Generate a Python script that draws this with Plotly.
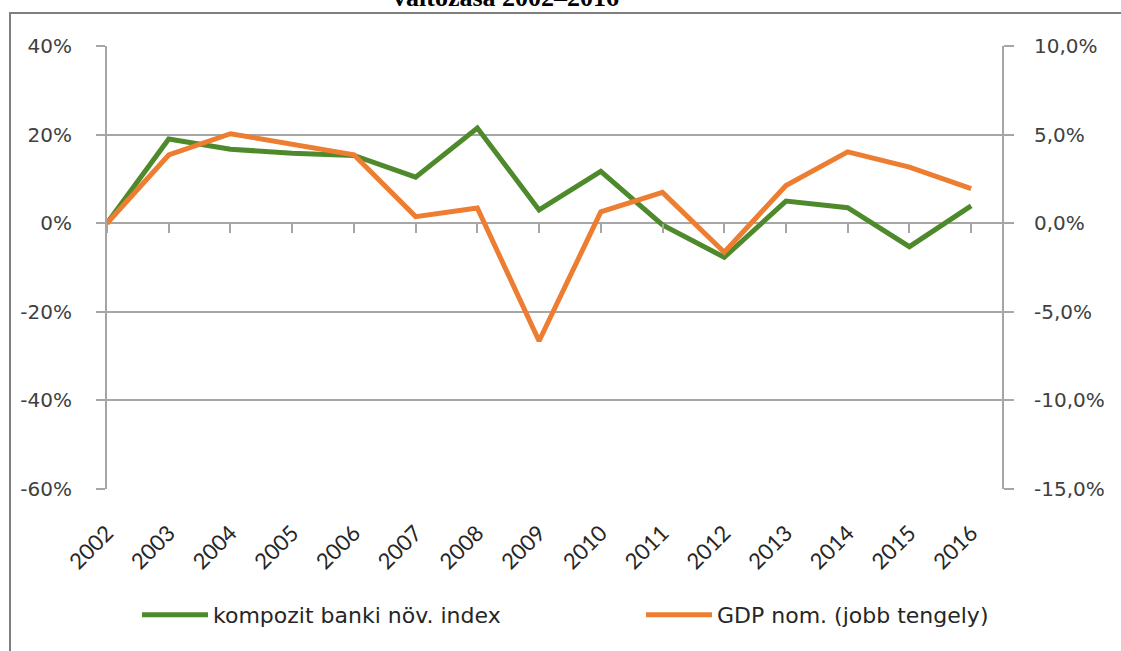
import plotly.graph_objects as go

years = ["2002", "2003", "2004", "2005", "2006", "2007", "2008", "2009",
         "2010", "2011", "2012", "2013", "2014", "2015", "2016"]
bank_index = [0.0, 19.0, 16.7, 15.8, 15.3, 10.4, 21.5, 3.0, 11.7, -0.4,
              -7.7, 5.0, 3.5, -5.3, 3.9]
gdp_nom = [0.0, 3.85, 5.05, 4.45, 3.86, 0.37, 0.86, -6.65, 0.64, 1.74,
           -1.64, 2.13, 4.03, 3.17, 1.95]
left_ticks = [-60, -40, -20, 0, 20, 40]
left_labels = ["-60%", "-40%", "-20%", "0%", "20%", "40%"]
right_ticks = [-15, -10, -5, 0, 5, 10]
right_labels = ["-15,0%", "-10,0%", "-5,0%", "0,0%", "5,0%", "10,0%"]
title_text = "változása 2002–2016"
name_bank = "kompozit banki növ. index"
name_gdp = "GDP nom. (jobb tengely)"

GREEN = "#4E8A2C"
ORANGE = "#ED7D31"
GRID = "#A6A6A6"
TXT = "#404040"

idx = list(range(len(years)))

fig = go.Figure()
fig.add_trace(go.Scatter(x=idx, y=bank_index, name=name_bank, mode="lines",
                         line=dict(color=GREEN, width=5), yaxis="y",
                         legend="legend"))
fig.add_trace(go.Scatter(x=idx, y=gdp_nom, name=name_gdp, mode="lines",
                         line=dict(color=ORANGE, width=5), yaxis="y2",
                         legend="legend2"))
# carrier for the tick marks along the zero line
fig.add_trace(go.Scatter(x=[0], y=[None], xaxis="x2", yaxis="y", mode="lines",
                         showlegend=False, hoverinfo="skip"))

W, H = 1121, 651
L, R, T, B = 107, 1002, 46, 489
pw, ph = R - L, B - T

def px_x(p):
    return (p - L) / pw

def px_y(p):
    return (B - p) / ph

leg_font = dict(family="DejaVu Sans", size=22, color="#262626")
fig.update_layout(
    width=W, height=H,
    margin=dict(l=L, r=W - R, t=T, b=H - B, pad=0, autoexpand=False),
    paper_bgcolor="white", plot_bgcolor="white",
    font=dict(family="DejaVu Sans", color=TXT, size=20),
    showlegend=True,
    legend=dict(orientation="h", x=px_x(137), y=px_y(615), xanchor="left",
                yanchor="middle", font=leg_font, itemwidth=66,
                bgcolor="rgba(0,0,0,0)"),
    legend2=dict(orientation="h", x=px_x(641), y=px_y(615), xanchor="left",
                 yanchor="middle", font=leg_font, itemwidth=66,
                 bgcolor="rgba(0,0,0,0)"),
    xaxis=dict(range=[0, 14.5], tickvals=idx, ticktext=years, tickangle=-45,
               showgrid=False, zeroline=False, showline=False, ticks="",
               ticklabelstandoff=26, automargin=False,
               tickfont=dict(family="Lato", size=22, color="#262626")),
    xaxis2=dict(range=[0, 14.5], overlaying="x", anchor="free", position=0.6,
                tickvals=idx, ticks="outside", ticklen=9, tickwidth=2,
                tickcolor=GRID, showticklabels=False, showgrid=False,
                zeroline=False, showline=False, automargin=False),
    yaxis=dict(range=[-60, 40], tickvals=left_ticks, ticktext=left_labels,
               showgrid=True, gridcolor=GRID, gridwidth=2, zeroline=False,
               showline=True, linecolor=GRID, linewidth=2,
               ticks="outside", ticklen=9, tickwidth=2, tickcolor=GRID,
               ticklabelstandoff=20, automargin=False),
    yaxis2=dict(range=[-15, 10], tickvals=right_ticks, ticktext=right_labels,
                overlaying="y", side="right", showgrid=False,
                zeroline=False, showline=True, linecolor=GRID, linewidth=2,
                ticks="outside", ticklen=10, tickwidth=2, tickcolor=GRID,
                ticklabelstandoff=16, automargin=False),
    shapes=[dict(type="rect", xref="paper", yref="paper",
                 x0=px_x(10), x1=1.3, y0=-0.6, y1=px_y(13),
                 line=dict(color="#7F7F7F", width=2), fillcolor="rgba(0,0,0,0)",
                 layer="below")],
    annotations=[dict(text=title_text, xref="paper", yref="paper",
                      x=px_x(506), y=px_y(14), xanchor="center", yanchor="bottom",
                      showarrow=False,
                      font=dict(family="Liberation Serif", size=26, color="black",
                                weight="bold"))],
)

fig.write_html("out.html", config={"displayModeBar": False},
               post_script="document.body.style.margin='0';document.body.style.overflow='hidden';")
